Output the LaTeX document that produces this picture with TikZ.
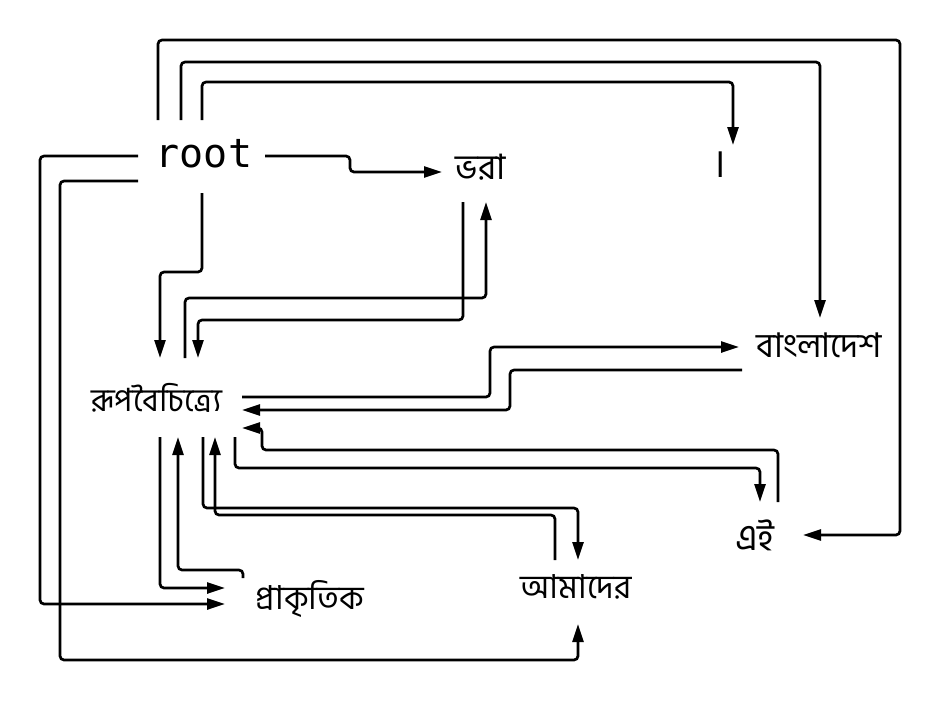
\documentclass[tikz,border=0pt]{standalone}
\usepackage{fontspec}
\newfontfamily\bn[Script=Bengali]{Hind Siliguri}
\newfontfamily\monofont{DejaVu Sans Mono}
\usetikzlibrary{arrows.meta}
\begin{document}
\begin{tikzpicture}[x=1pt,y=-1pt,
  wbox/.style={inner sep=0pt, font=\bn\fontsize{#1}{#1}\selectfont},
  wbox/.default=30,
  conn/.style={line width=2.7pt, rounded corners=4pt, -{Triangle[length=18pt,width=11pt]}},
]
\useasboundingbox[fill=white] (0,0) rectangle (940,702);
% nodes (placed at the centre of their text)
\node[inner sep=0pt, font=\monofont\fontsize{40}{44}\selectfont] (root) at (204,154) {root};
\node[wbox=35] (bhora) at (481,167) {ভরা};
\node[wbox=40] (danda) at (720,165) {।};
\node[wbox=34] (bd) at (819,345) {বাংলাদেশ};
\node[wbox=32] (rup) at (157,398) {রূপবৈচিত্র্যে};
\node[wbox=37] (ei) at (755,535) {এই};
\node[wbox=33] (amader) at (576,587) {আমাদের};
\node[wbox=33] (prak) at (310,599) {প্রাকৃতিক};
% edges from root
\draw[conn] ([shift={(-46,-34)}]root.center) |- (900,40) |- ([shift={(48,0)}]ei.center);
\draw[conn] ([shift={(-23,-34)}]root.center) |- (820,62) -- ([shift={(1,-27)}]bd.center);
\draw[conn] ([shift={(-2,-34)}]root.center) |- (733,82) -- ([shift={(13,-20)}]danda.center);
\draw[conn] ([shift={(61,2)}]root.center) -- (350,156) -- (350,172) -- ([shift={(-39,5)}]bhora.center);
\draw[conn] ([shift={(-66,2)}]root.center) -| (40,604) -- ([shift={(-85,5)}]prak.center);
\draw[conn] ([shift={(-66,27)}]root.center) -| (60,660) -| ([shift={(2,37)}]amader.center);
\draw[conn] ([shift={(-2,39)}]root.center) |- (180,272) -| ([shift={(3,-40)}]rup.center);
% bhora <-> rup
\draw[conn] ([shift={(-18,35)}]bhora.center) |- (198,320) -- ([shift={(41,-40)}]rup.center);
\draw[conn] ([shift={(28,-40)}]rup.center) |- (486,298) -- ([shift={(5,35)}]bhora.center);
% rup <-> bd
\draw[conn] ([shift={(85,-1)}]rup.center) -- (490,397) |- ([shift={(-80,2)}]bd.center);
\draw[conn] ([shift={(-77,25)}]bd.center) -- (510,370) |- ([shift={(85,12)}]rup.center);
% rup <-> ei
\draw[conn] ([shift={(23,-33)}]ei.center) |- (262,450) |- ([shift={(85,30)}]rup.center);
\draw[conn] ([shift={(78,39)}]rup.center) |- (760,468) -- ([shift={(5,-33)}]ei.center);
% rup <-> prak
\draw[conn] ([shift={(3,39)}]rup.center) |- ([shift={(-85,-11)}]prak.center);
\draw[conn] ([shift={(-67,-21)}]prak.center) -- (243,570) -| ([shift={(21,39)}]rup.center);
% rup <-> amader
\draw[conn] ([shift={(46,39)}]rup.center) |- (578,508) -- ([shift={(2,-27)}]amader.center);
\draw[conn] ([shift={(-21,-27)}]amader.center) |- (215,515) -- ([shift={(58,39)}]rup.center);
\end{tikzpicture}
\end{document}
